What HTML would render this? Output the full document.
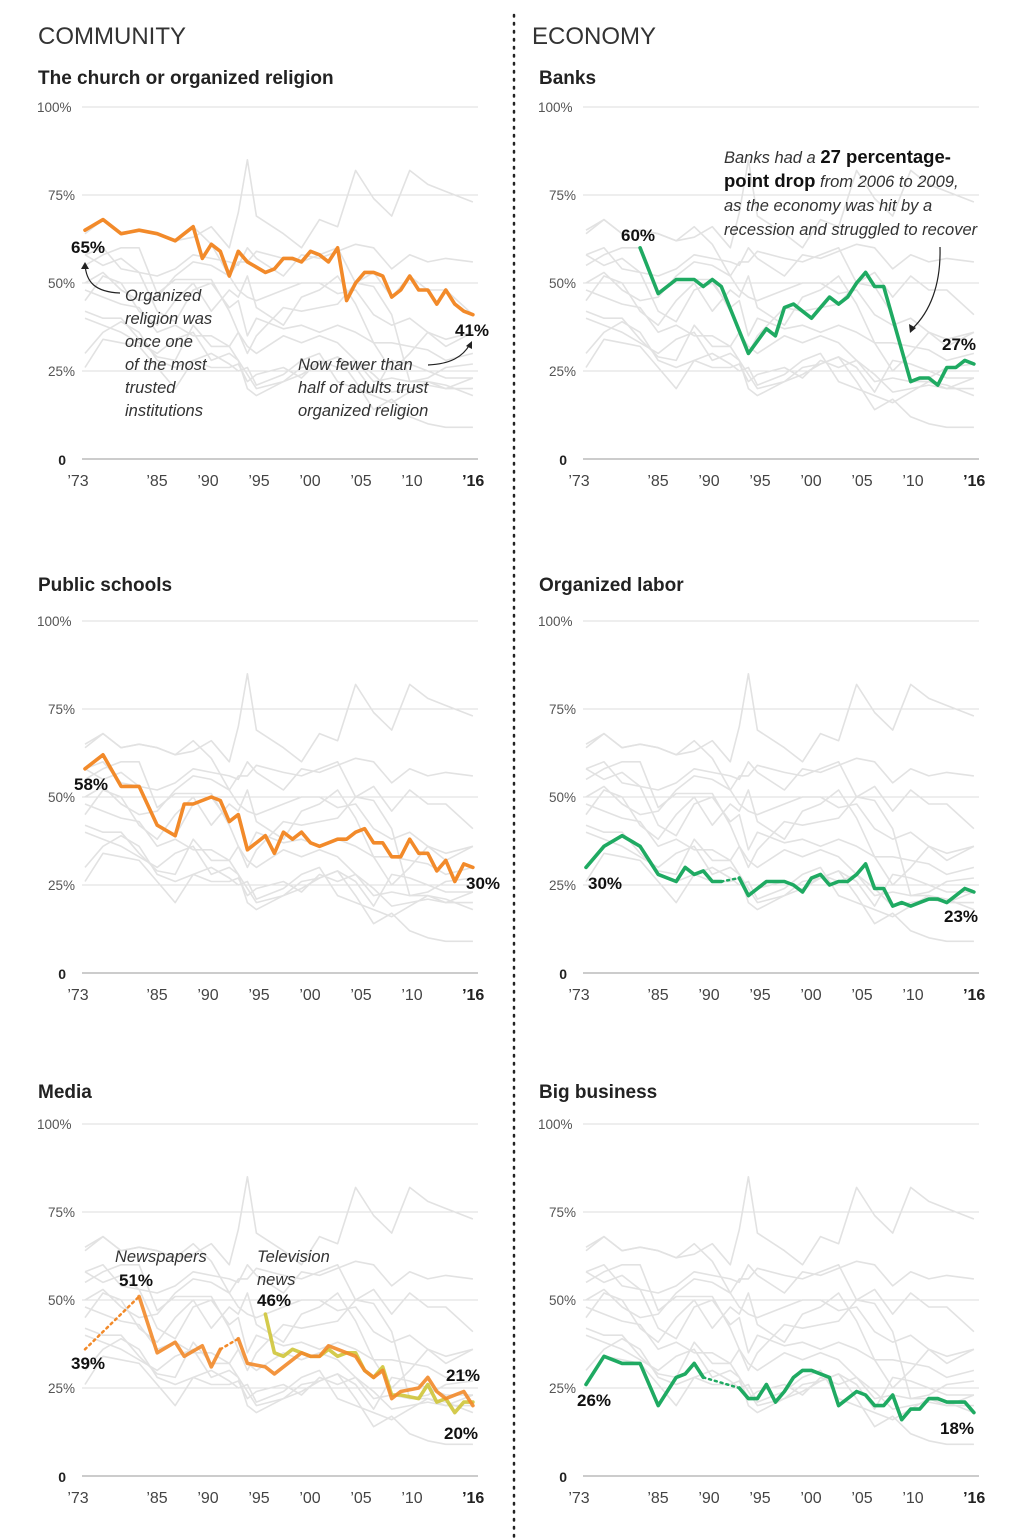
<!DOCTYPE html>
<html><head><meta charset="utf-8">
<style>
html,body{margin:0;padding:0;background:#fff;}
svg{display:block;font-family:"Liberation Sans",sans-serif;}
.sec{font-size:24px;fill:#333;}
.ttl{font-size:19px;font-weight:bold;fill:#222;}
.yl{font-size:13.5px;fill:#555;}
.xl{font-size:16px;fill:#444;}
.lab{font-size:17px;font-weight:bold;fill:#111;}
.ann{font-size:16.5px;font-style:italic;fill:#333;}
</style></head>
<body>
<svg id="chart" width="1016" height="1540" viewBox="0 0 1016 1540">
<text class="sec" x="38" y="44">COMMUNITY</text>
<text class="sec" x="532" y="44">ECONOMY</text>
<line x1="514" y1="15" x2="514" y2="1540" stroke="#222" stroke-width="2.5" stroke-dasharray="1.5,6.5" stroke-linecap="round"/>
<g id="panels"></g>
</svg>
<script>
// ---- shared data ----
const grayYears = [1973,1975,1977,1979,1981,1983,1985,1987,1989,1990,1991,1992,1995,1997,1999,2001,2003,2005,2007,2009,2011,2013,2016];
const grayMilitary = [64,68,64,65,64,62,63,66,60,70,85,69,64,60,68,66,82,74,69,82,78,76,73];
const grayPolice   = [58,55,57,53,52,54,58,57,56,55,60,57,52,58,57,59,61,60,54,58,56,57,56];
const grayCourt    = [50,53,48,45,46,52,56,55,52,48,46,45,48,50,50,47,48,41,38,40,36,34,36];
const grayPresident= [45,52,50,42,38,45,50,42,48,46,52,43,38,46,48,52,44,33,25,30,36,32,36];
const grayCongress = [42,40,40,34,29,28,38,32,32,28,20,18,22,26,27,29,22,14,17,12,10,9,9];
const grayNews     = [48,46,44,43,36,38,35,35,32,36,32,30,35,33,35,33,28,22,23,22,22,20,20];
const graySchools  = [58,60,54,53,42,39,48,50,43,45,35,40,37,38,36,38,36,33,33,32,31,28,30];
const grayBusiness = [26,34,33,32,26,20,28,30,27,25,26,21,24,28,30,22,20,18,16,19,22,21,18];
const grayJustice  = [40,38,36,33,30,34,36,28,30,28,24,20,22,24,27,29,26,19,28,27,25,23,23];
const grayBanks    = [55,58,60,60,47,51,51,51,42,36,30,35,43,42,43,44,50,49,41,22,23,26,27];
const grayChurch   = [65,68,64,65,64,62,66,61,52,56,56,59,57,56,58,60,50,53,46,52,48,48,41];
const grayLabor    = [30,36,39,36,28,26,28,26,26,27,22,24,26,23,28,26,28,24,19,20,21,20,23];
const graySeries = [grayMilitary,grayPolice,grayCourt,grayPresident,grayCongress,grayNews,graySchools,grayBusiness,grayJustice,grayBanks,grayChurch,grayLabor];

const churchYears = [1973,1975,1977,1979,1981,1983,1984,1985,1986,1987,1988,1989,1990,1991,1993,1994,1995,1996,1997,1998,1999,2000,2001,2002,2003,2004,2005,2006,2007,2008,2009,2010,2011,2012,2013,2014,2015,2016];
const churchValues = [65,68,64,65,64,62,64,66,57,61,59,52,59,56,53,54,57,57,56,59,58,56,60,45,50,53,53,52,46,48,52,48,48,44,48,44,42,41];

const banksYears = [1979,1981,1983,1985,1986,1987,1988,1991,1993,1994,1995,1996,1997,1998,1999,2000,2001,2002,2003,2004,2005,2006,2009,2010,2011,2012,2013,2014,2015,2016];
const banksValues = [60,47,51,51,49,51,49,30,37,35,43,44,42,40,43,46,44,46,50,53,49,49,22,23,23,21,26,26,28,27];

const schoolsYears = [1973,1975,1977,1979,1981,1983,1984,1985,1987,1988,1989,1990,1991,1993,1994,1995,1996,1997,1998,1999,2000,2001,2002,2003,2004,2005,2006,2007,2008,2009,2010,2011,2012,2013,2014,2015,2016];
const schoolsValues = [58,62,53,53,42,39,48,48,50,49,43,45,35,39,34,40,38,40,37,36,37,38,38,40,41,37,37,33,33,38,34,34,29,32,26,31,30];

const laborYears = [1973,1975,1977,1979,1981,1983,1984,1985,1986,1987,1988,1990,1991,1993,1995,1996,1997,1998,1999,2000,2001,2002,2003,2004,2005,2006,2007,2008,2009,2010,2011,2012,2013,2014,2015,2016];
const laborValues = [30,36,39,36,28,26,30,28,29,26,26,27,22,26,26,25,23,27,28,25,26,26,28,31,24,24,19,20,19,20,21,21,20,22,24,23];
const laborDashFrom = [1988];

const newsYears = [1973,1979,1981,1983,1984,1986,1987,1988,1990,1991,1993,1994,1997,1998,1999,2000,2001,2003,2004,2005,2006,2007,2008,2010,2011,2012,2013,2015,2016];
const newsValues = [36,51,35,38,34,37,31,36,39,32,31,29,35,34,34,37,36,34,30,28,30,22,24,25,28,24,22,24,20];
const newsDashFrom = [1973,1988];

const tvYears = [1993,1994,1995,1996,1997,1998,1999,2000,2001,2002,2003,2004,2005,2006,2007,2008,2010,2011,2012,2013,2014,2015,2016];
const tvValues = [46,35,34,36,35,34,34,36,34,35,35,30,28,31,23,23,22,26,21,22,18,21,21];

const bizYears = [1973,1975,1977,1979,1981,1983,1984,1985,1986,1990,1991,1992,1993,1994,1995,1996,1997,1998,1999,2000,2001,2002,2003,2004,2005,2006,2007,2008,2009,2010,2011,2012,2013,2014,2015,2016];
const bizValues = [26,34,32,32,20,28,29,32,28,25,22,22,26,21,24,28,30,30,29,28,20,22,24,23,20,20,23,16,19,19,22,22,21,21,21,18];
const bizDashFrom = [1986];

const tickYears = [1973,1985,1990,1995,2000,2005,2010,2016];
const tickLabels = ["’73","’85","’90","’95","’00","’05","’10","’16"];
const gridValues = [0,25,50,75,100];
const gridLabels = ["0","25%","50%","75%","100%"];

// ---- scales ----
const NS = "http://www.w3.org/2000/svg";
const colOff = [0, 501];
const zeroY = [459, 973, 1476];
function xs(year, col){ return colOff[col] + 85 + (year-1973)*9.02; }
function ys(v, row){ return zeroY[row] - v*3.52; }
function lx(year, col){ return colOff[col] + (year===1973 ? 78 : 157 + (year-1985)*10.2); }

const root = document.getElementById('panels');
function mk(tag, attrs, parent){
  const e = document.createElementNS(NS, tag);
  for (const k in attrs) e.setAttribute(k, attrs[k]);
  (parent||root).appendChild(e);
  return e;
}
function pathD(years, vals, col, row){
  return years.map((y,i)=>(i?'L':'M')+xs(y,col).toFixed(1)+','+ys(vals[i],row).toFixed(1)).join('');
}
function drawSeries(years, vals, col, row, color, width, dashFrom, name, opacity){
  const g = mk('g', {});
  
  
  dashFrom = dashFrom || [];
  let seg = [0];
  for (let i=1;i<years.length;i++){
    const dashed = dashFrom.indexOf(years[i-1])>=0;
    if (dashed){
      if (seg.length>1) mk('path',{d:pathD(seg.map(j=>years[j]),seg.map(j=>vals[j]),col,row),fill:'none',stroke:color,'stroke-width':width,'stroke-linejoin':'round','stroke-linecap':'round',opacity:opacity||1},g);
      mk('path',{d:pathD([years[i-1],years[i]],[vals[i-1],vals[i]],col,row),fill:'none',stroke:color,'stroke-width':2.5,'stroke-dasharray':'2,4','stroke-linecap':'round'},g);
      seg=[i];
    } else seg.push(i);
  }
  if (seg.length>1) mk('path',{d:pathD(seg.map(j=>years[j]),seg.map(j=>vals[j]),col,row),fill:'none',stroke:color,'stroke-width':width,'stroke-linejoin':'round','stroke-linecap':'round',opacity:opacity||1},g);
}
function txt(x,y,cls,s,name,anchor){
  const t = mk('text',{x:x,y:y,class:cls,'text-anchor':anchor||'start'});
  t.textContent = s;
  
  
  return t;
}

const panels = [
  {col:0,row:0,title:'The church or organized religion',tY:84},
  {col:1,row:0,title:'Banks',tY:84},
  {col:0,row:1,title:'Public schools',tY:591},
  {col:1,row:1,title:'Organized labor',tY:591},
  {col:0,row:2,title:'Media',tY:1098},
  {col:1,row:2,title:'Big business',tY:1098}
];
panels.forEach(p=>{
  const c=p.col, r=p.row, ox=colOff[c];
  txt(ox+38, p.tY, 'ttl', p.title, 'panel-title');
  gridValues.forEach((v,i)=>{
    const y = ys(v,r);
    const gl = mk('line',{x1:ox+82,x2:ox+478,y1:y,y2:y,stroke:v===0?'#999':'#ddd','stroke-width':1});
    
    
    if (v===100) txt(ox+37, y+5, 'yl', gridLabels[i], 'y-tick-label');
    else if (v===0){ const t=txt(ox+66, y+6, 'yl', gridLabels[i], 'y-tick-label','end'); t.setAttribute('style','font-weight:bold;fill:#222;font-size:14px'); }
    else txt(ox+75, y+5, 'yl', gridLabels[i], 'y-tick-label','end');
  });
  tickYears.forEach((yr,i)=>{
    const t = txt(lx(yr,c), zeroY[r]+27, 'xl', tickLabels[i], 'x-tick-label','middle');
    if (i===tickYears.length-1) t.setAttribute('style','font-weight:bold;fill:#222');
  });
  graySeries.forEach(s=>{
    const g = mk('path',{d:pathD(grayYears,s,c,r),fill:'none',stroke:'#e2e2e2','stroke-width':1.6,'stroke-linejoin':'round'});
    
    
  });
});

const ORANGE='#f28a2a', GREEN='#1faa62', TV='#cfc53a';
drawSeries(churchYears, churchValues, 0,0, ORANGE, 3.6, [], 'church-line');
drawSeries(banksYears, banksValues, 1,0, GREEN, 3.6, [], 'banks-line');
drawSeries(schoolsYears, schoolsValues, 0,1, ORANGE, 3.6, [], 'schools-line');
drawSeries(laborYears, laborValues, 1,1, GREEN, 3.6, laborDashFrom, 'labor-line');
drawSeries(tvYears, tvValues, 0,2, TV, 3.6, [], 'television-news-line', 0.9);
drawSeries(newsYears, newsValues, 0,2, ORANGE, 3.6, newsDashFrom, 'newspapers-line', 0.9);
drawSeries(bizYears, bizValues, 1,2, GREEN, 3.6, bizDashFrom, 'big-business-line');

// ---- annotations ----
txt(71,253,'lab','65%','church-start-label');
txt(455,336,'lab','41%','church-end-label');
['Organized','religion was','once one','of the most','trusted','institutions'].forEach((s,i)=>txt(125,301+i*23,'ann',s,'church-note'));
['Now fewer than','half of adults trust','organized religion'].forEach((s,i)=>txt(298,370+i*23,'ann',s,'church-note-2'));
mk('path',{d:'M120,293 C95,292 86,282 85,264',fill:'none',stroke:'#222','stroke-width':1.2});
mk('path',{d:'M81,269 L85,262 L89,269 Z',fill:'#222'});
mk('path',{d:'M428,365 C450,364 463,357 470,344',fill:'none',stroke:'#222','stroke-width':1.2});
mk('path',{d:'M466,346 L472,341 L472,349 Z',fill:'#222'});

txt(621,241,'lab','60%','banks-start-label');
txt(942,350,'lab','27%','banks-end-label');
(function(){
  const lines=[[['Banks had a ',0],['27 percentage-',1]],[['point drop',1],[' from 2006 to 2009,',0]],[['as the economy was hit by a',0]],[['recession and struggled to recover',0]]];
  lines.forEach((ln,i)=>{
    const t = txt(724,163+i*24,'ann','', 'banks-note');
    ln.forEach(([s,b])=>{
      const sp = document.createElementNS(NS,'tspan');
      sp.textContent=s;
      if (b) sp.setAttribute('style','font-style:normal;font-weight:bold;font-size:18.5px;fill:#111');
      t.appendChild(sp);
    });
  });
})();
mk('path',{d:'M940,247 C941,285 930,312 912,329',fill:'none',stroke:'#222','stroke-width':1.2});
mk('path',{d:'M909,324 L910,333 L916,328 Z',fill:'#222'});

txt(74,790,'lab','58%','schools-start-label');
txt(466,889,'lab','30%','schools-end-label');
txt(588,889,'lab','30%','labor-start-label');
txt(944,922,'lab','23%','labor-end-label');

txt(115,1262,'ann','Newspapers','newspapers-label');
txt(119,1286,'lab','51%','newspapers-peak-label');
txt(71,1369,'lab','39%','newspapers-start-label');
txt(257,1262,'ann','Television','tv-label');
txt(257,1285,'ann','news','tv-label-2');
txt(257,1306,'lab','46%','tv-start-label');
txt(446,1381,'lab','21%','tv-end-label');
txt(444,1439,'lab','20%','newspapers-end-label');

txt(577,1406,'lab','26%','business-start-label');
txt(940,1434,'lab','18%','business-end-label');
</script>
</body></html>
